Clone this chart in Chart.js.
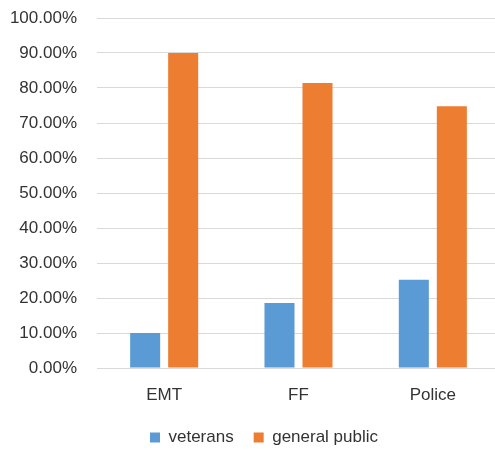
<!DOCTYPE html>
<html>
<head>
<meta charset="utf-8">
<script src="https://cdn.jsdelivr.net/npm/chart.js@4/dist/chart.umd.min.js"></script>
<style>
  html, body { margin: 0; padding: 0; background: #ffffff; overflow: hidden; width: 495px; height: 450px; }
  canvas { display: block; }
</style>
</head>
<body>
<canvas id="chart" width="500" height="456"></canvas>
<script>
// Share of respondents per service group
const categories = ['EMT', 'FF', 'Police'];
const veterans = [10.0, 18.6, 25.2];
const generalPublic = [90.0, 81.4, 74.8];

// Value axis: 0% to 100% in steps of 10%
const yMin = 0;
const yMax = 100;
const yStep = 10;
const formatPercent = v => v.toFixed(2) + '%';

const textColor = '#333333';
const gridColor = '#d9d9d9';
const font = { family: '"Liberation Sans", Arial, sans-serif', size: 17 };

// Nudges the legend row to the right so it sits under the plot
const legendOffset = {
  id: 'legendOffset',
  afterLayout(chart) {
    const lg = chart.legend;
    if (lg) { lg.left += 14; lg.right += 14; }
  }
};

new Chart(document.getElementById('chart'), {
  type: 'bar',
  data: {
    labels: categories,
    datasets: [
      {
        label: 'veterans',
        data: veterans,
        backgroundColor: '#5b9bd5',
        categoryPercentage: 0.566,
        barPercentage: 0.79
      },
      {
        label: 'general public',
        data: generalPublic,
        backgroundColor: '#ed7d31',
        categoryPercentage: 0.566,
        barPercentage: 0.79
      }
    ]
  },
  plugins: [legendOffset],
  options: {
    responsive: false,
    devicePixelRatio: 1,
    animation: false,
    layout: { padding: { top: 18, left: 0, right: 0, bottom: 0 } },
    plugins: {
      tooltip: { enabled: false },
      legend: {
        position: 'bottom',
        labels: {
          boxWidth: 10,
          boxHeight: 10,
          padding: 20,
          color: textColor,
          font: font
        }
      }
    },
    scales: {
      x: {
        grid: { display: false, drawTicks: false },
        border: { display: false },
        ticks: { color: textColor, font: font, padding: 17 },
        afterFit: s => { s.height = 41; }
      },
      y: {
        min: yMin,
        max: yMax,
        grid: { color: gridColor, lineWidth: 1, drawTicks: false },
        border: { display: false },
        ticks: {
          stepSize: yStep,
          color: textColor,
          font: font,
          padding: 20,
          callback: v => formatPercent(v)
        },
        afterFit: s => {
          s.width = 97;
          s.paddingTop = 0;
          s.paddingBottom = 0;
        }
      }
    }
  }
});
</script>
</body>
</html>
